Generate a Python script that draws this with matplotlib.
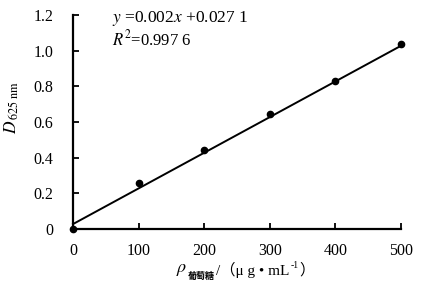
import numpy as np
import matplotlib.pyplot as plt

plt.rcParams['font.family'] = ['Liberation Serif', 'Noto Sans CJK SC', 'DejaVu Sans']
plt.rcParams['mathtext.fontset'] = 'stix'

# data
conc = [0, 100, 200, 300, 400, 500]
absorb = [0.0, 0.255, 0.443, 0.647, 0.828, 1.040]
slope = 0.002
intercept = 0.0271
x_ticks = [0, 100, 200, 300, 400, 500]
y_ticks = [0, 0.2, 0.4, 0.6, 0.8, 1.0, 1.2]
y_tick_labels = ['0', '0.2', '0.4', '0.6', '0.8', '1.0', '1.2']

fig = plt.figure(figsize=(4.22, 3.0), dpi=100)
ax = fig.add_axes([0.173, 0.237, 0.777, 0.713])

xf = np.array([0, 500])
ax.plot(xf, slope * xf + intercept, color='black', lw=1.4, clip_on=False)
ax.plot(conc, absorb, 'o', color='black', ms=4.5, clip_on=False, zorder=5)

ax.set_xlim(0, 500)
ax.set_ylim(0, 1.2)
ax.set_xticks(x_ticks)
ax.set_yticks(y_ticks)
ax.set_yticklabels(y_tick_labels)
ax.tick_params(direction='in', length=4, width=1.3, labelsize=11.5, pad=14)
ax.tick_params(axis='x', pad=10)
for s in ['top', 'right']:
    ax.spines[s].set_visible(False)
for s in ['left', 'bottom']:
    ax.spines[s].set_linewidth(1.6)

ax.text(0.12, 0.985, r'$y$ =0.002$x$ +0.027 1', transform=ax.transAxes,
        fontsize=12.5, va='center')
ax.text(0.12, 0.885, r'$R$$^{\,2}$=0.997 6', transform=ax.transAxes,
        fontsize=12, va='center')

fig.text(12 / 422, 1 - 108 / 300, r'$D_{\,\mathrm{625\ nm}}$', rotation=90,
         fontsize=12.5, ha='center', va='center')

# x label assembled from pieces, placed one after another
fig.canvas.draw()
r = fig.canvas.get_renderer()
pieces = [
    (r'$\rho$', 13, 0, {}),
    ('葡萄糖', 6.5, -6, {'family': ['Noto Sans CJK SC'], 'weight': 'bold'}),
    ('/（μ g • mL', 11, 0, {}),
    ('-1', 7, 5, {}),
    ('）', 11, 0, {}),
]
x0 = 176.0
yc = 270.0
for txt, fs, dy, kw in pieces:
    t = fig.text(x0 / 422, 1 - (yc - dy) / 300, txt, fontsize=fs,
                 ha='left', va='center', **kw)
    bb = t.get_window_extent(renderer=r)
    x0 += bb.width + 1.0

fig.savefig('out.png', dpi=100)
